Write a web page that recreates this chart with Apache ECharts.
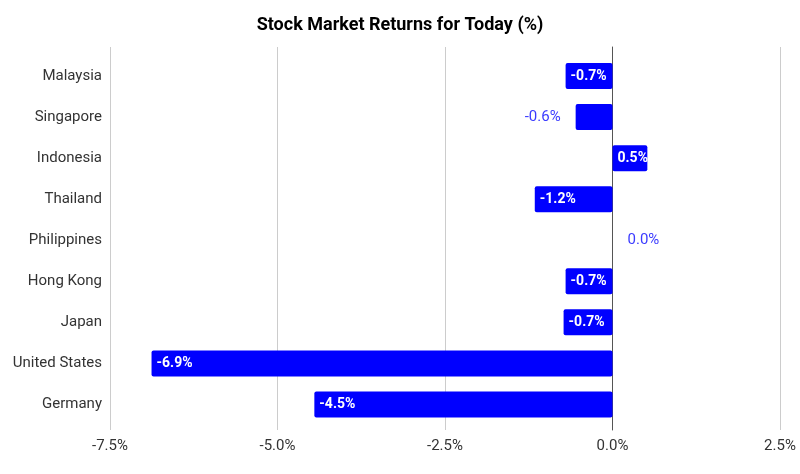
<!DOCTYPE html>
<html>
<head>
<meta charset="utf-8">
<script src="https://cdn.jsdelivr.net/npm/echarts@6/dist/echarts.min.js"></script>
<style>html,body{margin:0;padding:0;background:#fff}#c{width:800px;height:474px}</style>
</head>
<body>
<div id="c"></div>
<script>
var categories = ['Malaysia','Singapore','Indonesia','Thailand','Philippines','Hong Kong','Japan','United States','Germany'];
var returns = [-0.70, -0.55, 0.52, -1.16, 0.0, -0.70, -0.73, -6.88, -4.45];
var labelInside = [true, false, true, true, false, true, true, true, true];
var xTicks = [-7.5, -5.0, -2.5, 0.0, 2.5];

var FONT = 'Roboto';
var L = 110, R = 800 - 780;
var chart = echarts.init(document.getElementById('c'));

var barData = returns.map(function (v, i) {
  var d = { value: v };
  if (labelInside[i]) {
    d.label = { position: 'insideLeft', distance: 5, color: '#fff', fontWeight: 'bold', fontSize: 14 };
  } else {
    d.label = { position: v < 0 ? 'left' : 'right', distance: 15, color: '#3b3bff', fontWeight: 'normal', fontSize: 15 };
  }
  return d;
});

chart.setOption({
  animation: false,
  title: {
    text: 'Stock Market Returns for Today (%)',
    left: 'center', top: 11,
    textStyle: { fontFamily: FONT, fontSize: 18, fontWeight: 'bold', color: '#000' }
  },
  grid: [
    { left: L, right: R, top: 47, bottom: 474 - 430 },
    { left: L, right: R, top: 55.5, bottom: 474 - 425 }
  ],
  xAxis: [
    {
      gridIndex: 0, type: 'value', min: xTicks[0], max: xTicks[xTicks.length - 1], interval: 2.5,
      axisLine: { show: false }, axisTick: { show: false },
      splitLine: { show: true, lineStyle: { color: '#cccccc', width: 1 } },
      axisLabel: {
        fontFamily: FONT, fontSize: 15, color: '#333', margin: 9,
        formatter: function (v) { return v.toFixed(1) + '%'; }
      }
    },
    {
      gridIndex: 1, type: 'value', min: xTicks[0], max: xTicks[xTicks.length - 1], interval: 2.5,
      axisLine: { show: false }, axisTick: { show: false }, axisLabel: { show: false },
      splitLine: { show: false }
    }
  ],
  yAxis: [
    {
      gridIndex: 0, type: 'category', data: categories, inverse: true,
      axisLine: { show: true, onZero: true, lineStyle: { color: '#555', width: 1 } },
      axisTick: { show: false }, axisLabel: { show: false }, splitLine: { show: false }
    },
    {
      gridIndex: 1, type: 'category', data: categories, inverse: true,
      axisLine: { show: false }, axisTick: { show: false },
      axisLabel: { fontFamily: FONT, fontSize: 15, color: '#333', margin: 8 }
    }
  ],
  series: [{
    type: 'bar', xAxisIndex: 1, yAxisIndex: 1,
    data: barData, barWidth: 26,
    itemStyle: { color: '#0000ff', borderRadius: 2 },
    label: {
      show: true, fontFamily: FONT, fontSize: 14,
      formatter: function (p) { return p.value.toFixed(1) + '%'; }
    }
  }]
});
</script>
</body>
</html>
